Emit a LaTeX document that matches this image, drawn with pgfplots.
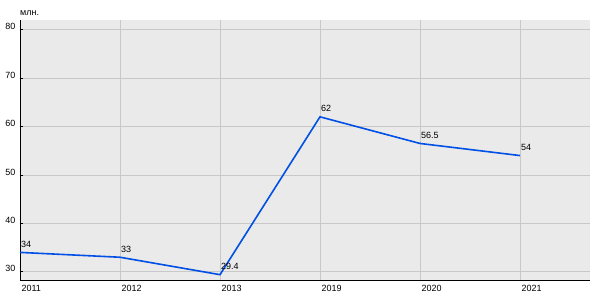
\documentclass[border=0pt]{standalone}
\usepackage{pgfplots}
\pgfplotsset{compat=1.18}
\usepackage{fontspec}
\setmainfont{Liberation Sans}
\definecolor{bgc}{HTML}{EAEAEA}
\definecolor{gridc}{HTML}{C8C8C8}
\definecolor{linec}{HTML}{0050E6}
\begin{document}
\begin{tikzpicture}[x=1pt,y=1pt]
\useasboundingbox (0,0) rectangle (600,300);
\fill[white] (0,0) rectangle (600,300);
\begin{axis}[
  at={(20pt,20pt)}, anchor=south west,
  scale only axis, width=570pt, height=260pt,
  xmin=0, xmax=5.7, ymin=28.3, ymax=82,
  axis background/.style={fill=bgc},
  axis x line*=bottom, axis y line*=left,
  axis line style={black, line width=0.8pt, -},
  xtick={0,1,2,3,4,5},
  xticklabels={2011,2012,2013,2019,2020,2021},
  ytick={30,40,50,60,70,80},
  grid=major, major grid style={gridc, line width=0.8pt},
  tick style={black, line width=0.6pt},
  xtick style={draw=none},
  major tick length=3pt,
  y tick label style={anchor=east, yshift=3pt, xshift=-1pt, font=\fontsize{9}{10}\selectfont},
  x tick label style={anchor=north west, xshift=-2pt, yshift=-1.5pt, font=\fontsize{9}{10}\selectfont},
  /pgf/number format/assume math mode=true,
  clip=false,
  nodes near coords,
  point meta=explicit symbolic,
  every node near coord/.append style={anchor=south west, xshift=-3pt, yshift=1pt, font=\fontsize{9}{10}\selectfont, text=black},
]
\addplot[linec, line width=1.6pt, mark=none] coordinates {
 (0,34)[34] (1,33)[33] (2,29.4)[29.4] (3,62)[62] (4,56.5)[56.5] (5,54)[54]
};
\end{axis}
\node[anchor=south west, font=\fontsize{9}{10}\selectfont, inner sep=0pt] at (20,284) {млн.};
\end{tikzpicture}
\end{document}
